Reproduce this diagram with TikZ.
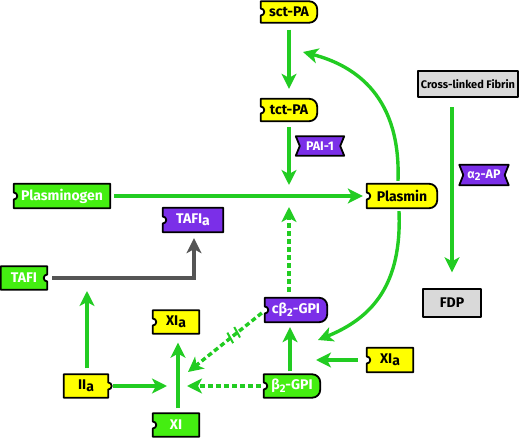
\documentclass[tikz,border=0pt]{standalone}
\usepackage{fontspec}
\setmainfont{Fira Sans}
\usetikzlibrary{arrows.meta,calc,backgrounds}
\definecolor{agreen}{HTML}{22CC22}
\definecolor{bgreen}{HTML}{44EE11}
\definecolor{byellow}{HTML}{FFFF00}
\definecolor{bpurple}{HTML}{7B2FE8}
\definecolor{bgray}{HTML}{D9D9D9}
\definecolor{garrow}{HTML}{555555}
\newcommand\lowa{\raisebox{-1.5pt}{a}}
\newcommand\subtwo{\raisebox{-2.5pt}{\fontsize{11}{11}\selectfont 2}}
\newcommand\shpA[2]{\draw[shp,fill=#2] (#1.south west) -- ([yshift=-3.5pt]#1.west) arc[start angle=-90,end angle=90,radius=3.5pt] -- (#1.north west) -- ([xshift=-8pt]#1.north east) arc[start angle=90,end angle=0,radius=8pt] -- ([yshift=8pt]#1.south east) arc[start angle=0,end angle=-90,radius=8pt] -- cycle;}
\newcommand\shpB[2]{\draw[shp,fill=#2] (#1.south west) -- ([yshift=-3.5pt]#1.west) arc[start angle=-90,end angle=90,radius=3.5pt] -- (#1.north west) -- (#1.north east) -- (#1.south east) -- cycle;}
\newcommand\shpC[2]{\draw[shp,fill=#2] (#1.south west) -- (#1.north west) -- (#1.north east) -- ([yshift=3.5pt]#1.east) arc[start angle=90,end angle=270,radius=3.5pt] -- (#1.south east) -- cycle;}
\newcommand\shpD[2]{\draw[shp,fill=#2] (#1.south west) -- (#1.north west) -- (#1.north east) -- ([yshift=3.5pt]#1.east) arc[start angle=90,end angle=-90,radius=3.5pt] -- (#1.south east) -- cycle;}
\newcommand\shpE[2]{\draw[shp,fill=#2] (#1.south west) -- ([xshift=4pt]#1.west) -- (#1.north west) -- (#1.north east) -- ([xshift=-4pt]#1.east) -- (#1.south east) -- cycle;}
\newcommand\shpF[2]{\draw[shp,fill=#2] (#1.south west) rectangle (#1.north east);}
\begin{document}
\begin{tikzpicture}[x=1pt,y=-1pt,
  lbl/.style={inner sep=0pt, font=\bfseries\fontsize{14}{14}\selectfont},
  onlight/.style={lbl,text=black},
  ondark/.style={lbl,text=white},
  shp/.style={draw=black, line width=1.8pt, line join=round},
  arr/.style={draw=agreen, line width=3.4pt, -{Stealth[length=15pt,width=15pt,inset=4pt]}},
  dsh/.style={arr, dash pattern=on 5pt off 3pt},
  garr/.style={draw=garrow, line width=3.4pt, -{Stealth[length=15pt,width=15pt,inset=4pt]}},
  tick/.style={draw=agreen, line width=2pt}]
\useasboundingbox (0,0) rectangle (520,438);
% nodes
\node[onlight, minimum width=56pt, minimum height=21pt] (sct) at (289,12) {sct-PA};
\node[onlight, minimum width=56pt, minimum height=22pt] (tct) at (289,110) {tct-PA};
\node[ondark, minimum width=48pt, minimum height=19pt, font=\bfseries\fontsize{12.5}{12.5}\selectfont] (pai) at (320,146) {PAI-1};
\node[ondark, minimum width=96pt, minimum height=24pt] (plg) at (62,196) {Plasminogen};
\node[onlight, minimum width=70pt, minimum height=24pt] (pls) at (402,196) {Plasmin};
\node[ondark, minimum width=60pt, minimum height=24pt] (tafia) at (193,220) {TAFI\lowa};
\node[ondark, minimum width=46pt, minimum height=23pt] (tafi) at (24,278) {TAFI};
\node[onlight, minimum width=44pt, minimum height=23pt] (iia) at (86,386) {II\lowa};
\node[ondark, minimum width=46pt, minimum height=23pt] (xi) at (176,425) {XI};
\node[onlight, minimum width=46pt, minimum height=23pt] (xia1) at (176,322) {XI\lowa};
\node[ondark, minimum width=62pt, minimum height=24pt] (cb2) at (296,310) {cβ\subtwo-GPI};
\node[ondark, minimum width=56pt, minimum height=23pt] (b2) at (292,386) {β\subtwo-GPI};
\node[onlight, minimum width=46pt, minimum height=24pt] (xia2) at (390,360) {XI\lowa};
\node[onlight, minimum width=100pt, minimum height=26pt, font=\bfseries\fontsize{11}{11}\selectfont] (fib) at (468,84) {Cross-linked Fibrin};
\node[onlight, minimum width=58pt, minimum height=27pt] (fdp) at (452,303) {FDP};
\node[ondark, minimum width=49pt, minimum height=20pt, font=\bfseries\fontsize{12.5}{12.5}\selectfont] (a2ap) at (484,175) {α\subtwo-AP};
% shapes
\begin{scope}[on background layer]
\shpA{sct}{byellow}
\shpA{tct}{byellow}
\shpE{pai}{bpurple}
\shpB{plg}{bgreen}
\shpA{pls}{byellow}
\shpB{tafia}{bpurple}
\shpC{tafi}{bgreen}
\shpD{iia}{byellow}
\shpB{xi}{bgreen}
\shpB{xia1}{byellow}
\shpA{cb2}{bpurple}
\shpA{b2}{bgreen}
\shpB{xia2}{byellow}
\shpF{fib}{bgray}
\shpF{fdp}{bgray}
\shpE{a2ap}{bpurple}
\end{scope}
% junctions
\coordinate (j1) at (289,185);
\coordinate (j2) at (289,207);
\coordinate (j3) at (303,52);
\coordinate (j4) at (318,340);
\coordinate (j5) at (316,360);
\coordinate (j6) at (187,386);
\coordinate (j7) at (188,372);
\coordinate (j8) at (167,386);
\coordinate (j9) at (87,291);
% connectors
\draw[arr] ([yshift=-7pt]sct.south) -- ([yshift=10pt]tct.north);
\draw[arr] ([yshift=-6pt]tct.south) -- (j1);
\draw[arr] ([xshift=4pt]plg.east) -- ([xshift=-4pt]pls.west);
\draw[dsh] ($(cb2.north -| j2)+(0pt,6pt)$) -- (j2);
\draw[arr] ($(pls.north)+(-4pt,3pt)$) .. controls (401,98) and (357,66) .. (j3);
\draw[arr] ($(pls.south)+(-3pt,-3pt)$) .. controls (402,285) and (372,318) .. (j4);
\draw[arr] ($(b2.north)+(-2pt,3pt)$) -- ($(cb2.south)+(-6pt,-5pt)$);
\draw[arr] ($(xia2.west)+(-9pt,0pt)$) -- (j5);
\draw[dsh] ($(b2.west)+(-3pt,0pt)$) -- (j6);
\draw[dsh] ($(cb2.west)+(-3pt,-3pt)$) -- (j7);
\coordinate (m1) at ($(cb2.west)!0.36!(j7)$);
\coordinate (m2) at ($(cb2.west)!0.45!(j7)$);
\draw[tick] ($(m1)!6pt!80:(j7)$) -- ($(m1)!6pt!-100:(j7)$);
\draw[tick] ($(m2)!6pt!80:(j7)$) -- ($(m2)!6pt!-100:(j7)$);
\draw[arr] ($(xi.north)+(2pt,5pt)$) -- ($(xia1.south)+(2pt,-9pt)$);
\draw[arr] ($(iia.east)+(5pt,0pt)$) -- (j8);
\draw[arr] ($(iia.north)+(1pt,6pt)$) -- (j9);
\draw[garr] ($(tafi.east)+(5pt,0pt)$) -| ($(tafia.south)+(1pt,-6pt)$);
\draw[arr] ($(fdp.north |- fib.south)+(0pt,-10pt)$) -- ($(fdp.north)+(0pt,17pt)$);
\end{tikzpicture}
\end{document}
